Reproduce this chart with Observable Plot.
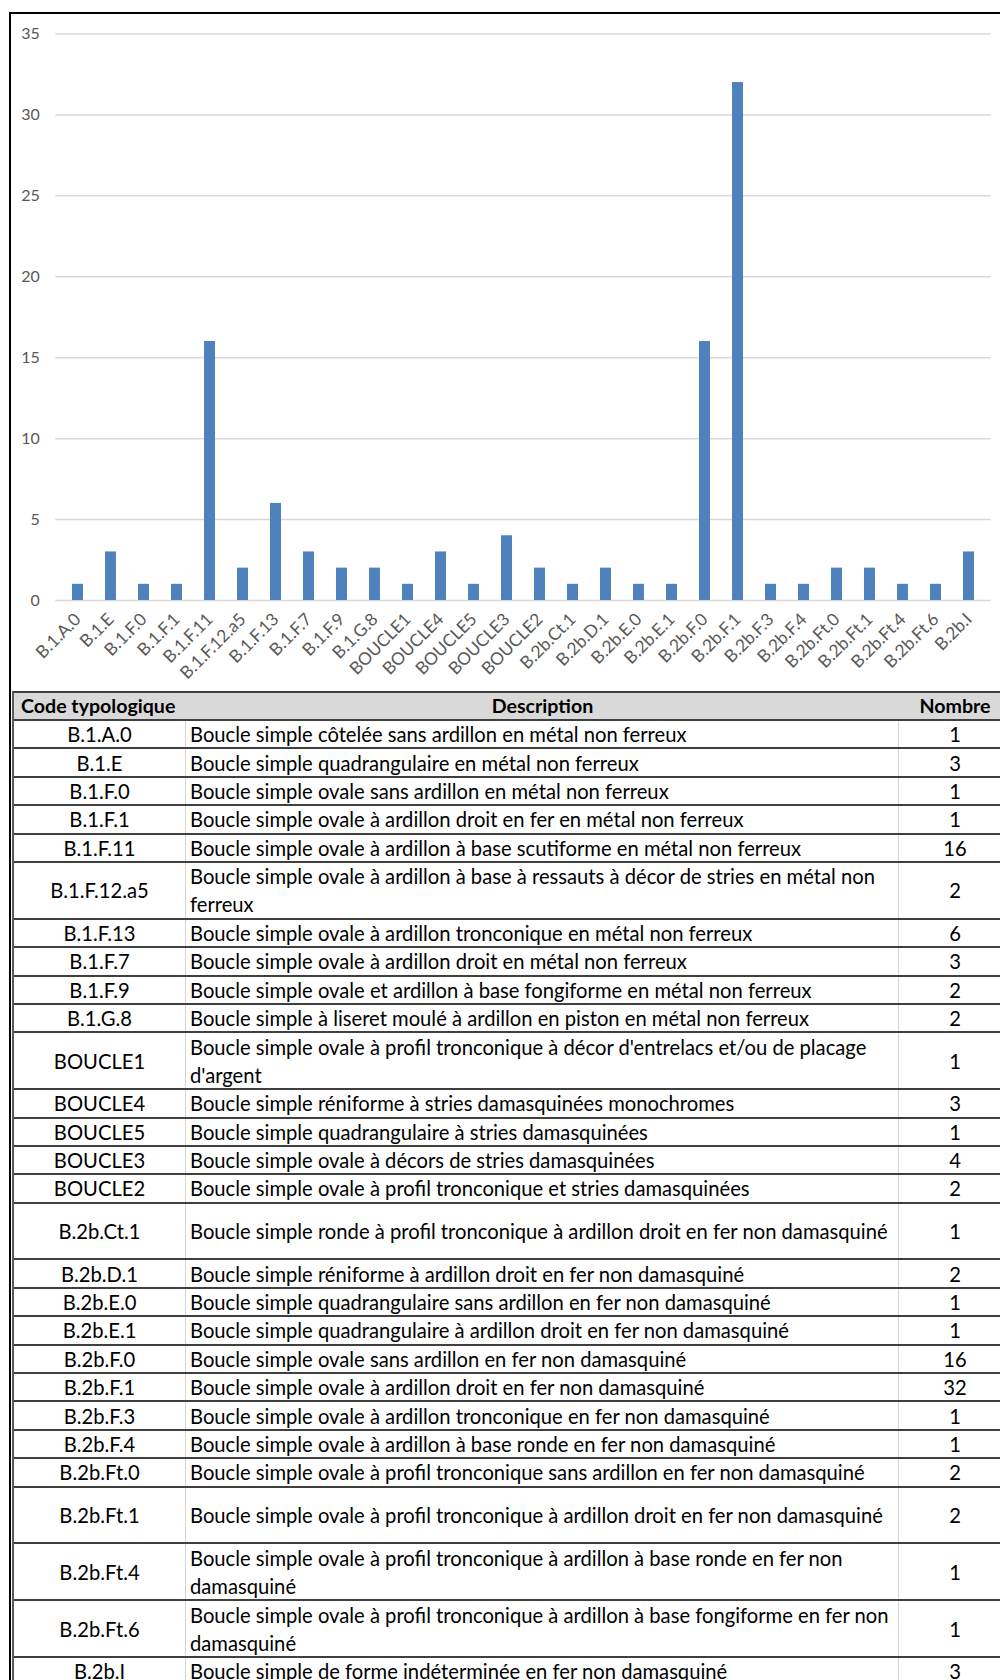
<!DOCTYPE html>
<html>
<head>
<meta charset="utf-8">
<script src="https://cdn.jsdelivr.net/npm/d3@7"></script>
<script src="https://cdn.jsdelivr.net/npm/@observablehq/plot@0.6"></script>
<style>
  html, body { margin: 0; padding: 0; background: #fff; overflow: hidden; }
  #frame { position: absolute; left: 9px; top: 12px; width: 1000px; height: 1680px;
           border-left: 2px solid #000; border-top: 2px solid #000; overflow: hidden; }
  #chart svg { display: block; }
  #table { position: absolute; left: 1px; top: 677px; width: 1000px;
           font-family: Lato, sans-serif; font-size: 20.2px; color: #000;
           border-top: 2px solid #3f3f3f; border-left: 2px solid #5a5a5a; }
  .row { display: flex; box-sizing: border-box; border-bottom: 2px solid #3f3f3f; }
  .row.head { background: #d9d9d9; font-weight: bold; font-size: 19.6px; height: 28px; border-bottom-width: 2px; }
  .cell { box-sizing: border-box; display: flex; align-items: center; overflow: visible; line-height: 28px; }
  .c1 { width: 172px; justify-content: center; border-right: 1.5px solid #d4d4d4; }
  .c2 { width: 713px; padding-left: 4px; border-right: 1.5px solid #d4d4d4; }
  .c3 { width: 112px; justify-content: center; }
  .head .c1 { justify-content: flex-start; padding-left: 7px; border-right: none; }
  .head .c2 { justify-content: center; border-right: none; padding-left: 0; }
</style>
</head>
<body>
<div id="frame">
  <div id="chart"></div>
  <div id="table"></div>
</div>
<script>
const codes = ["B.1.A.0","B.1.E","B.1.F.0","B.1.F.1","B.1.F.11","B.1.F.12.a5","B.1.F.13","B.1.F.7","B.1.F.9","B.1.G.8",
  "BOUCLE1","BOUCLE4","BOUCLE5","BOUCLE3","BOUCLE2","B.2b.Ct.1","B.2b.D.1","B.2b.E.0","B.2b.E.1","B.2b.F.0",
  "B.2b.F.1","B.2b.F.3","B.2b.F.4","B.2b.Ft.0","B.2b.Ft.1","B.2b.Ft.4","B.2b.Ft.6","B.2b.I"];
const counts = [1,3,1,1,16,2,6,3,2,2,1,3,1,4,2,1,2,1,1,16,32,1,1,2,2,1,1,3];
const descriptions = [
  "Boucle simple côtelée sans ardillon en métal non ferreux",
  "Boucle simple quadrangulaire en métal non ferreux",
  "Boucle simple ovale sans ardillon en métal non ferreux",
  "Boucle simple ovale à ardillon droit en fer en métal non ferreux",
  "Boucle simple ovale à ardillon à base scutiforme en métal non ferreux",
  "Boucle simple ovale à ardillon à base à ressauts à décor de stries en métal non ferreux",
  "Boucle simple ovale à ardillon tronconique en métal non ferreux",
  "Boucle simple ovale à ardillon droit en métal non ferreux",
  "Boucle simple ovale et ardillon à base fongiforme en métal non ferreux",
  "Boucle simple à liseret moulé à ardillon en piston en métal non ferreux",
  "Boucle simple ovale à profil tronconique à décor d'entrelacs et/ou de placage d'argent",
  "Boucle simple réniforme à stries damasquinées monochromes",
  "Boucle simple quadrangulaire à stries damasquinées",
  "Boucle simple ovale à décors de stries damasquinées",
  "Boucle simple ovale à profil tronconique et stries damasquinées",
  "Boucle simple ronde à profil tronconique à ardillon droit en fer non damasquiné",
  "Boucle simple réniforme à ardillon droit en fer non damasquiné",
  "Boucle simple quadrangulaire sans ardillon en fer non damasquiné",
  "Boucle simple quadrangulaire à ardillon droit en fer non damasquiné",
  "Boucle simple ovale sans ardillon en fer non damasquiné",
  "Boucle simple ovale à ardillon droit en fer non damasquiné",
  "Boucle simple ovale à ardillon tronconique en fer non damasquiné",
  "Boucle simple ovale à ardillon à base ronde en fer non damasquiné",
  "Boucle simple ovale à profil tronconique sans ardillon en fer non damasquiné",
  "Boucle simple ovale à profil tronconique à ardillon droit en fer non damasquiné",
  "Boucle simple ovale à profil tronconique à ardillon à base ronde en fer non damasquiné",
  "Boucle simple ovale à profil tronconique à ardillon à base fongiforme en fer non damasquiné",
  "Boucle simple de forme indéterminée en fer non damasquiné"
];
const headers = ["Code typologique", "Description", "Nombre"];
const yTicks = [0, 5, 10, 15, 20, 25, 30, 35];

// layout only: rows drawn at double height in the reference table
const tallRows = new Set(["B.1.F.12.a5","BOUCLE1","B.2b.Ct.1","B.2b.Ft.1","B.2b.Ft.4","B.2b.Ft.6"]);

const data = codes.map((code, i) => ({code, n: counts[i]}));

const chart = Plot.plot({
  width: 991,
  height: 678,
  marginTop: 19.5,
  marginBottom: 92,
  marginLeft: 44.3,
  marginRight: 11.3,
  style: {fontFamily: "Lato, sans-serif", fontSize: "17.3px", color: "#595959", background: "#fff"},
  x: {domain: codes, paddingInner: 0.67, paddingOuter: 0.335, label: null},
  y: {domain: [0, 35], label: null},
  marks: [
    Plot.gridY(yTicks, {stroke: "#d9d9d9", strokeOpacity: 1, strokeWidth: 1.5}),
    Plot.axisY(yTicks, {tickSize: 0, tickPadding: 16, label: null, fill: "#595959", fontSize: 16}),
    Plot.barY(data, {x: "code", y: "n", fill: "#4f81bd"}),
    Plot.axisX({tickSize: 0, tickRotate: -45, tickPadding: 16, dx: 0, label: null, fill: "#595959"})
  ]
});
document.getElementById("chart").appendChild(chart);

const table = document.getElementById("table");
const unit = 28.4;
function addRow(vals, cls, h) {
  const row = document.createElement("div");
  row.className = "row" + (cls ? " " + cls : "");
  if (h) row.style.height = h + "px";
  vals.forEach((v, j) => {
    const c = document.createElement("div");
    c.className = "cell c" + (j + 1);
    c.textContent = v;
    row.appendChild(c);
  });
  table.appendChild(row);
}
addRow(headers, "head", 28);
codes.forEach((code, i) => addRow([code, descriptions[i], counts[i]], "", tallRows.has(code) ? unit * 2 : unit));
</script>
</body>
</html>
